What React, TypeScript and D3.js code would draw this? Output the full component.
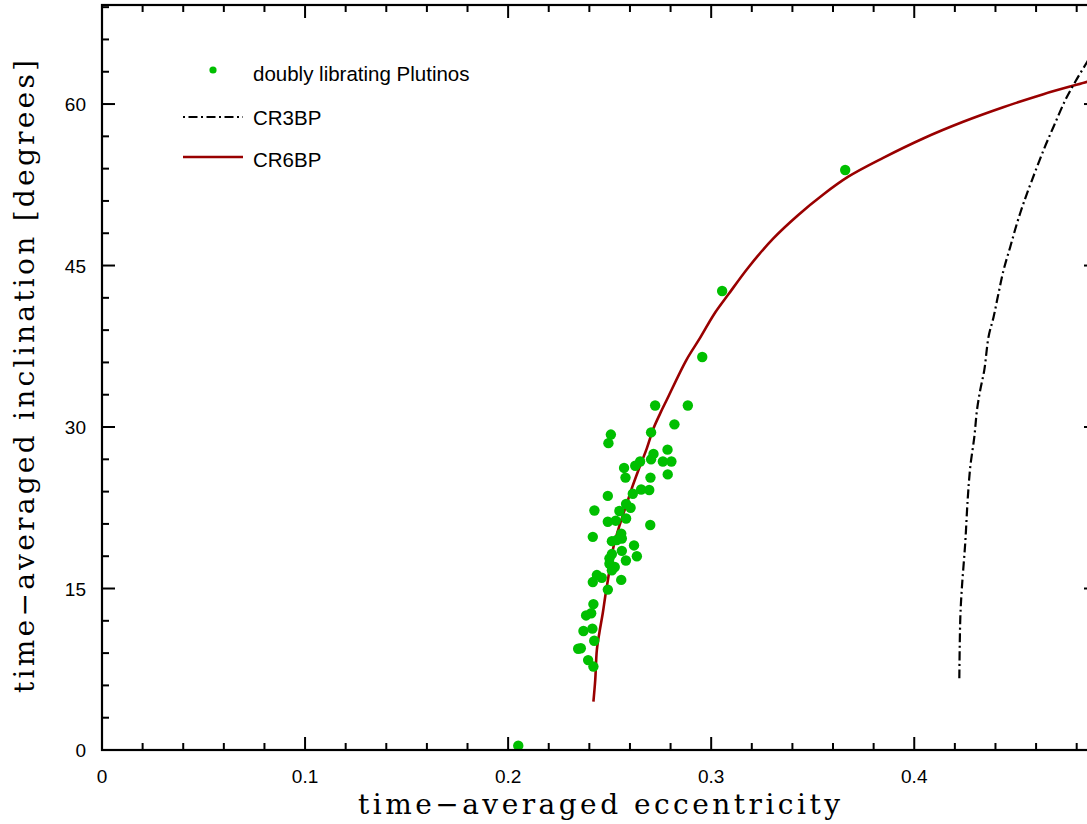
import React from "react";
import * as d3 from "d3";

// ---- data ----
const plutinoE = [
  0.205, 0.366, 0.3054, 0.2956, 0.2724, 0.2885, 0.2819, 0.2704, 0.2506, 0.2494,
  0.2785, 0.2716, 0.2704, 0.2762, 0.2804, 0.265, 0.2626, 0.2571, 0.2786, 0.2701,
  0.2578, 0.2655, 0.2695, 0.2614, 0.2491, 0.2581, 0.2603, 0.2425, 0.2548, 0.2581,
  0.2491, 0.253, 0.27, 0.2557, 0.2417, 0.256, 0.2511, 0.262, 0.2634, 0.256,
  0.2511, 0.258, 0.2499, 0.2511, 0.2437, 0.2461, 0.2417, 0.2557, 0.2491, 0.242,
  0.2409, 0.2384, 0.2371, 0.2415, 0.2424, 0.2358, 0.2345, 0.2394, 0.242, 0.2499,
  0.2525, 0.2535,
];
const plutinoI = [
  0.4, 53.87, 42.63, 36.5, 32.0, 32.0, 30.25, 29.5, 29.3, 28.5,
  27.9, 27.5, 27.0, 26.8, 26.8, 26.8, 26.4, 26.2, 25.6, 25.3,
  25.3, 24.2, 24.15, 23.8, 23.6, 22.85, 22.5, 22.25, 22.2, 21.5,
  21.2, 21.3, 20.9, 20.1, 19.8, 19.65, 19.4, 19.0, 18.0, 18.5,
  18.2, 17.6, 17.3, 16.7, 16.25, 16.0, 15.6, 15.8, 14.9, 13.55,
  12.7, 12.5, 11.05, 11.27, 10.15, 9.45, 9.4, 8.35, 7.75, 17.8,
  17.0, 19.5,
];

const cr6bpE = [
  0.242, 0.2429, 0.2437, 0.245, 0.2466, 0.2478, 0.2494, 0.2519, 0.2552, 0.2585,
  0.2609, 0.2642, 0.2683, 0.2716, 0.2749, 0.2781, 0.2877, 0.2946, 0.3015, 0.3084,
  0.3182, 0.3305, 0.3429, 0.3552, 0.3675, 0.3847, 0.4044, 0.4241, 0.4438, 0.4636,
  0.4852, 0.4901,
];
const cr6bpI = [
  4.49, 6.5, 9.29, 10.96, 12.7, 14.24, 16.1, 18.88, 21.06, 22.91,
  24.3, 26.01, 28.02, 29.88, 31.27, 32.51, 36.2, 38.3, 40.5, 42.3,
  44.8, 47.5, 49.7, 51.6, 53.25, 55.0, 56.8, 58.35, 59.7, 60.92,
  62.06, 62.32,
];

const cr3bpE = [
  0.4222, 0.4227, 0.4235, 0.4251, 0.4263, 0.4276, 0.4296, 0.4309, 0.4325, 0.4345,
  0.4366, 0.4391, 0.4415, 0.444, 0.4473, 0.4506, 0.4538, 0.458, 0.4637, 0.4686,
  0.4744, 0.4793, 0.4852, 0.4905,
];
const cr3bpI = [
  6.66, 12.38, 15.17, 19.2, 23.22, 26.31, 29.1, 31.58, 33.44, 35.29,
  38.39, 40.25, 42.42, 44.58, 46.75, 48.92, 50.78, 52.94, 55.73, 57.89,
  60.37, 62.07, 63.93, 65.6,
];

const xMajorTicks = [0, 0.1, 0.2, 0.3, 0.4];
const xTickLabels = ["0", "0.1", "0.2", "0.3", "0.4"];
const yMajorTicks = [0, 15, 30, 45, 60];
const yTickLabels = ["0", "15", "30", "45", "60"];

const legendLabels = ["doubly librating Plutinos", "CR3BP", "CR6BP"];

// ---- layout ----
const W = 1087;
const H = 824;
const left = 102;
const right = 1097;
const top = 5;
const bottom = 750;

const GREEN = "#00bf00";
const RED = "#990000";

export default function App() {
  const x = d3.scaleLinear().domain([0, 0.49]).range([left, right]);
  const y = d3.scaleLinear().domain([0, 69.2]).range([bottom, top]);

  const xMinor = d3.range(0, 0.4901, 0.02).filter(
    (v) => !xMajorTicks.some((m) => Math.abs(m - v) < 1e-6)
  );
  const yMinor = d3.range(0, 69.2, 3).filter((v) => v % 15 !== 0);

  const line = d3
    .line<[number, number]>()
    .x((d) => x(d[0]))
    .y((d) => y(d[1]))
    .curve(d3.curveCatmullRom.alpha(0.5));

  const cr6 = line(cr6bpE.map((e, i) => [e, cr6bpI[i]] as [number, number])) || "";
  const cr3 = line(cr3bpE.map((e, i) => [e, cr3bpI[i]] as [number, number])) || "";

  const majorLen = 13;
  const minorLen = 7;
  const axisW = 2.2;

  return (
    <svg
      width={W}
      height={H}
      style={{ position: "absolute", left: 0, top: 0, background: "#fff" }}
    >
      <defs>
        <clipPath id="plot">
          <rect x={left} y={top} width={right - left} height={bottom - top} />
        </clipPath>
      </defs>

      {/* curves */}
      <g clipPath="url(#plot)">
        <path d={cr6} fill="none" stroke={RED} strokeWidth={2.6} strokeLinejoin="round" />
        <path
          d={cr3}
          fill="none"
          stroke="#000"
          strokeWidth={2.2}
          strokeDasharray="9 3.5 2 3.5"
        />
      </g>

      {/* points */}
      <g>
        {plutinoE.map((e, i) => (
          <circle key={i} cx={x(e)} cy={y(plutinoI[i])} r={5.2} fill={GREEN} />
        ))}
      </g>

      {/* frame */}
      <rect
        x={left}
        y={top}
        width={right - left}
        height={bottom - top}
        fill="none"
        stroke="#000"
        strokeWidth={axisW}
      />

      {/* ticks */}
      <g stroke="#000" strokeWidth={2}>
        {xMajorTicks.map((v) => (
          <g key={"xM" + v}>
            <line x1={x(v)} x2={x(v)} y1={bottom} y2={bottom - majorLen} />
            <line x1={x(v)} x2={x(v)} y1={top} y2={top + majorLen} />
          </g>
        ))}
        {xMinor.map((v) => (
          <g key={"xm" + v}>
            <line x1={x(v)} x2={x(v)} y1={bottom} y2={bottom - minorLen} />
            <line x1={x(v)} x2={x(v)} y1={top} y2={top + minorLen} />
          </g>
        ))}
        {yMajorTicks.map((v) => (
          <g key={"yM" + v}>
            <line x1={left} x2={left + majorLen} y1={y(v)} y2={y(v)} />
            <line x1={right} x2={right - majorLen} y1={y(v)} y2={y(v)} />
          </g>
        ))}
        {yMinor.map((v) => (
          <g key={"ym" + v}>
            <line x1={left} x2={left + minorLen} y1={y(v)} y2={y(v)} />
            <line x1={right} x2={right - minorLen} y1={y(v)} y2={y(v)} />
          </g>
        ))}
      </g>

      {/* tick labels */}
      <g fontFamily="'Liberation Sans', Arial, sans-serif" fontSize={19} fill="#000">
        {xMajorTicks.map((v, i) => (
          <text key={"xl" + v} x={x(v)} y={783} textAnchor="middle">
            {xTickLabels[i]}
          </text>
        ))}
        {yMajorTicks.map((v, i) => (
          <text key={"yl" + v} x={86} y={y(v) + 7} textAnchor="end">
            {yTickLabels[i]}
          </text>
        ))}
      </g>

      {/* axis titles */}
      <text
        x={358}
        y={814}
        fontFamily="'DejaVu Serif', serif"
        fontSize={28}
        textLength={482}
        lengthAdjust="spacing"
        fill="#000"
      >
        time−averaged eccentricity
      </text>
      <text
        transform="translate(34,693) rotate(-90)"
        x={0}
        y={0}
        fontFamily="'DejaVu Serif', serif"
        fontSize={28}
        textLength={633}
        lengthAdjust="spacing"
        fill="#000"
      >
        time−averaged inclination [degrees]
      </text>

      {/* legend */}
      <g fontFamily="'Liberation Sans', Arial, sans-serif" fontSize={20.5} fill="#000">
        <circle cx={213} cy={70} r={3.6} fill={GREEN} />
        <text x={253} y={81}>{legendLabels[0]}</text>
        <line
          x1={183}
          x2={243}
          y1={117}
          y2={117}
          stroke="#000"
          strokeWidth={2.2}
          strokeDasharray="2 3.5 9 3.5"
        />
        <text x={253} y={125}>{legendLabels[1]}</text>
        <line x1={183} x2={243} y1={157} y2={157} stroke={RED} strokeWidth={2.6} />
        <text x={253} y={167}>{legendLabels[2]}</text>
      </g>
    </svg>
  );
}
